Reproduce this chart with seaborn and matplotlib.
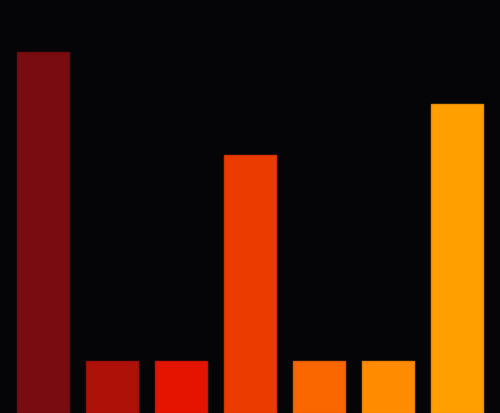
import matplotlib
matplotlib.use("Agg")
import matplotlib.pyplot as plt
import seaborn as sns

# bar data
categories = ["A", "B", "C", "D", "E", "F", "G"]
values = [7, 1, 1, 5, 1, 1, 6]
bar_colors = ["#780c10", "#ad1108", "#e41401", "#ec3b00",
              "#fa6600", "#ff8c00", "#ffa000"]
edge_colors = ["#6e0b0e", "#9c0f07", "#cc1201", "#d43500",
               "#e15c00", "#e67e00", "#e69000"]

bg = "#050507"

fig = plt.figure(figsize=(5, 4.14), dpi=100, facecolor=bg)
ax = fig.add_axes([0, 0, 1, 1])
ax.set_facecolor(bg)

sns.barplot(x=categories, y=values, hue=categories, palette=bar_colors,
            width=0.754, legend=False, ax=ax, saturation=1)

for patch, ec in zip(ax.patches, edge_colors):
    patch.set_edgecolor(ec)
    patch.set_linewidth(1)

ax.set_xlim(-0.623, 6.623)
ax.set_ylim(0, 8.03)
ax.set_axis_off()

fig.savefig("out.png", dpi=100, facecolor=bg)
